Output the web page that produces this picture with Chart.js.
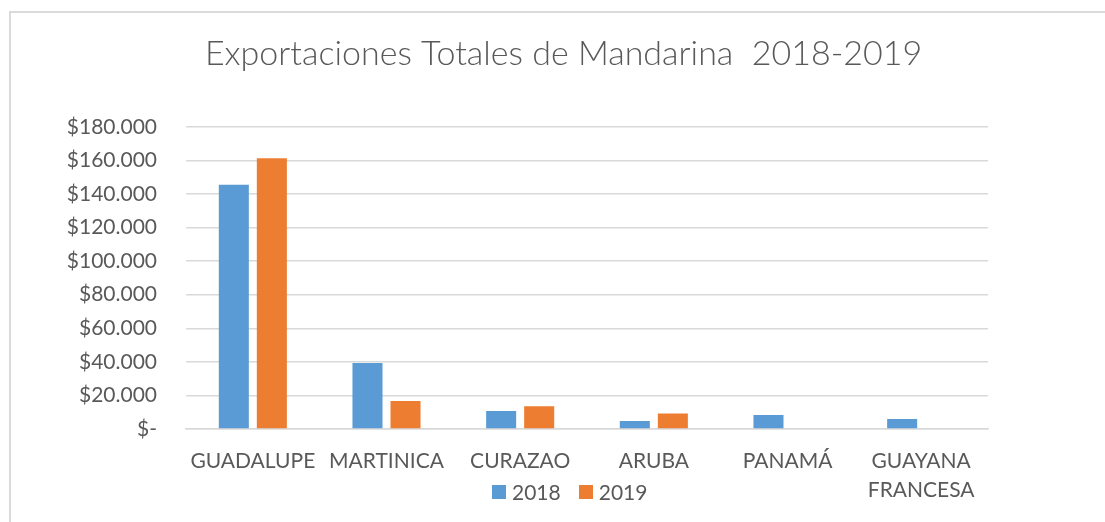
<!DOCTYPE html>
<html>
<head>
<meta charset="utf-8">
<script src="https://cdn.jsdelivr.net/npm/chart.js@4/dist/chart.umd.min.js"></script>
<style>
  html, body { margin: 0; padding: 0; background: #fff; overflow: hidden; }
  body { width: 1105px; height: 522px; position: relative; font-family: Lato, "Open Sans", sans-serif; }
  #frame { position: absolute; left: 9px; top: 11px; width: 1200px; height: 600px;
           border: 2px solid #dadada; box-sizing: border-box; }
  #chart { position: absolute; left: 12px; top: 0; }
  #leyenda { position: absolute; left: 492px; top: 480px; height: 24px; display: flex; align-items: center;
             color: #595959; font-size: 21px; line-height: 24px; }
  #leyenda .item { display: flex; align-items: center; margin-right: 18px; }
  #leyenda .caja { width: 14px; height: 14px; margin-right: 6px; }
</style>
</head>
<body>
<div id="frame"></div>
<canvas id="chart" width="1103" height="522"></canvas>
<div id="leyenda"></div>
<script>
// datos
var paises = ["GUADALUPE", "MARTINICA", "CURAZAO", "ARUBA", "PANAMÁ", ["GUAYANA", "FRANCESA"]];
var valores2018 = [145500, 39300, 10700, 4800, 8300, 6000];
var valores2019 = [161300, 16700, 13500, 9300, 0, 0];
var anios = ["2018", "2019"];
var colores = ["#5b9bd5", "#ed7d31"];
var titulo = "Exportaciones Totales de Mandarina  2018-2019";

var gris = "#595959";
var lineaGris = "#d9d9d9";

function formatoPesos(v) {
  if (v === 0) return "$-";
  return "$" + String(v).replace(/\B(?=(\d{3})+(?!\d))/g, ".");
}

Chart.defaults.font.family = "Lato, 'Open Sans', sans-serif";
Chart.defaults.color = gris;

var chart = new Chart(document.getElementById("chart"), {
  type: "bar",
  data: {
    labels: paises,
    datasets: [
      { label: anios[0], data: valores2018, backgroundColor: colores[0] },
      { label: anios[1], data: valores2019, backgroundColor: colores[1] }
    ]
  },
  options: {
    responsive: false,
    animation: false,
    categoryPercentage: 0.569,
    barPercentage: 0.79,
    layout: { padding: 0 },
    plugins: {
      title: {
        display: true,
        text: titulo,
        color: gris,
        font: { size: 34, weight: "300" },
        padding: { top: 34, bottom: 52 }
      },
      legend: { display: false },
      tooltip: { enabled: false }
    },
    scales: {
      x: {
        grid: { display: false, drawTicks: false },
        border: { display: true, color: lineaGris, width: 1.5 },
        ticks: { color: gris, font: { size: 21, lineHeight: 1.38 }, padding: 17.5, maxRotation: 0, autoSkip: false },
        afterFit: function (s) { s.height = 93; }
      },
      y: {
        min: 0,
        max: 180000,
        ticks: { stepSize: 20000, color: gris, font: { size: 21 }, padding: 29, callback: formatoPesos },
        grid: { color: lineaGris, lineWidth: 1.5, drawTicks: false },
        border: { display: false },
        afterFit: function (s) { s.width = 174; }
      },
      derecha: {
        position: "right",
        display: true,
        ticks: { display: false },
        grid: { display: false, drawTicks: false },
        border: { display: false },
        afterFit: function (s) { s.width = 127; }
      }
    }
  }
});

// leyenda en HTML (se solapa con la segunda linea de etiquetas como en el original)
var leyenda = document.getElementById("leyenda");
chart.data.datasets.forEach(function (ds) {
  var item = document.createElement("div");
  item.className = "item";
  var caja = document.createElement("span");
  caja.className = "caja";
  caja.style.background = ds.backgroundColor;
  var txt = document.createElement("span");
  txt.textContent = ds.label;
  item.appendChild(caja);
  item.appendChild(txt);
  leyenda.appendChild(item);
});
</script>
</body>
</html>
